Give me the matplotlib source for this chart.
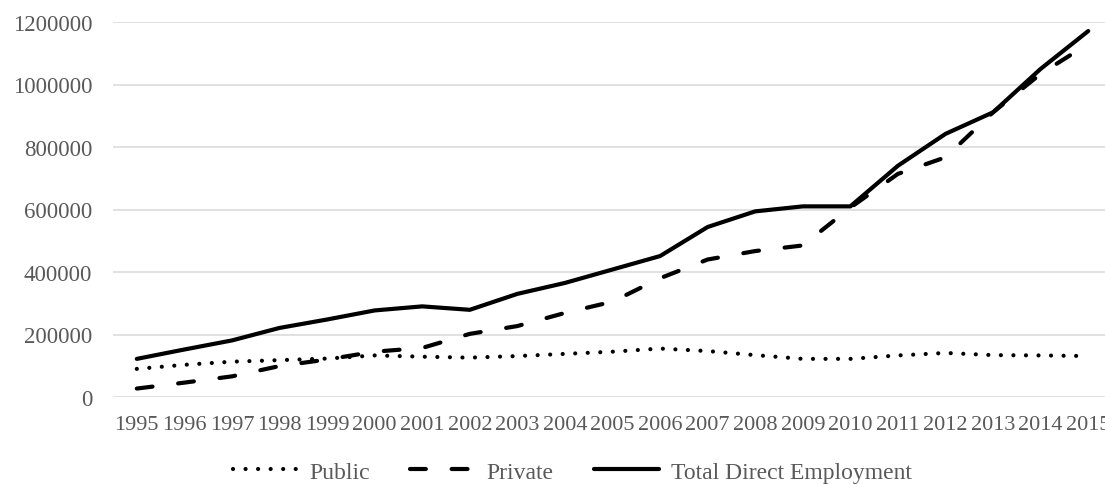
import matplotlib
matplotlib.use("Agg")
import matplotlib.pyplot as plt

years = [str(y) for y in range(1995, 2016)]
public = [90000, 103000, 113000, 118000, 123000, 133000, 129000, 126000, 131000, 138000,
          145000, 155000, 147000, 134000, 122000, 122000, 133000, 141000, 134000, 133000, 131000]
private = [27000, 46000, 66000, 99000, 120000, 145000, 157000, 202000, 227000, 269000,
           305000, 380000, 440000, 467000, 485000, 606000, 714000, 767000, 911000, 1034000, 1130000]
total = [122000, 152000, 181000, 221000, 248000, 277000, 290000, 279000, 330000, 365000,
         408000, 451000, 544000, 594000, 610000, 610000, 740000, 842000, 911000, 1050000, 1171000]
yticks = [0, 200000, 400000, 600000, 800000, 1000000, 1200000]
series_names = ["Public", "Private", "Total Direct Employment"]

plt.rcParams['font.family'] = ['Liberation Serif', 'DejaVu Serif']
text_color = "#595959"

fig = plt.figure(figsize=(11.05, 4.85), dpi=100)
W, H = 1105, 485
left, right, top, bottom = 113, 1112, 23, 398
ax = fig.add_axes([left / W, 1 - bottom / H, (right - left) / W, (bottom - top) / H])

x = list(range(len(years)))
lw = 3.0
ax.plot(x, public, color="black", lw=lw, linestyle=(0, (0.01, 3.0)),
        dash_capstyle="round", solid_capstyle="round", label=series_names[0], zorder=3)
ax.plot(x, private, color="black", lw=lw, linestyle=(0, (3.8, 6.2)),
        dash_capstyle="round", solid_capstyle="round", label=series_names[1], zorder=3)
ax.plot(x, total, color="black", lw=lw, linestyle="-",
        solid_capstyle="round", solid_joinstyle="round", label=series_names[2], zorder=3)

ax.set_xlim(-0.5, len(years) - 0.5)
ax.set_ylim(0, 1200000)
ax.set_yticks(yticks)
ax.set_yticklabels([str(v) for v in yticks])
ax.set_xticks(x)
ax.set_xticklabels(years)
ax.yaxis.grid(True, color="#d9d9d9", lw=1.1)
ax.set_axisbelow(True)
for s in ax.spines.values():
    s.set_visible(False)
ax.tick_params(axis="both", length=0, colors=text_color)
ax.tick_params(axis="y", pad=15, labelsize=16.5)
ax.tick_params(axis="x", pad=13, labelsize=16)

handles, labels = ax.get_legend_handles_labels()
leg = fig.legend(handles, labels, loc="center", bbox_to_anchor=(572 / W, 1 - 473 / H),
                 ncol=3, frameon=False, fontsize=17, handlelength=2.75,
                 columnspacing=1.7, handletextpad=0.5, labelcolor=text_color)

fig.savefig("out.png", dpi=100)
